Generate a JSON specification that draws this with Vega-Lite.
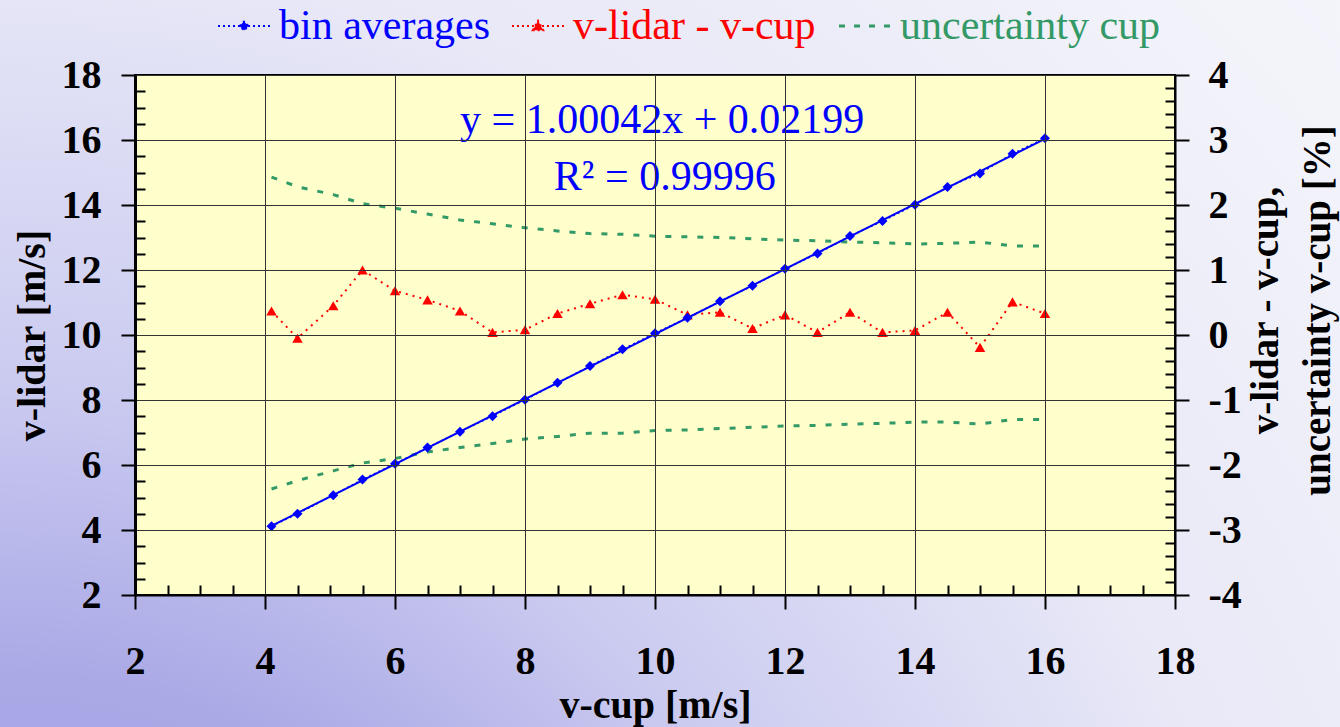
{
  "$schema": "https://vega.github.io/schema/vega-lite/v6.json",
  "width": 1040,
  "height": 520,
  "autosize": {"type": "none"},
  "padding": {"left": 135, "top": 75, "right": 165, "bottom": 132},
  "background": "#f4f4fb",
  "config": {
    "view": {"stroke": null},
    "font": "Liberation Serif, Times New Roman, serif",
    "axis": {
      "labelFont": "Liberation Serif, Times New Roman, serif",
      "labelFontWeight": "bold",
      "labelFontSize": 40,
      "labelColor": "#000000",
      "labelFlush": false,
      "labelOverlap": false,
      "labelBound": false,
      "titleFont": "Liberation Serif, Times New Roman, serif",
      "titleFontWeight": "bold",
      "titleFontSize": 40,
      "titleColor": "#000000",
      "tickColor": "#000000",
      "tickWidth": 2,
      "domainColor": "#000000",
      "domainWidth": 2,
      "gridColor": "#333333",
      "gridWidth": 1
    }
  },
  "datasets": {
    "bins": [
      {"cup": 4.1, "lidar": 4.115, "diff": 0.37, "unc_hi": 2.43, "unc_lo": -2.37},
      {"cup": 4.5, "lidar": 4.498, "diff": -0.05, "unc_hi": 2.28, "unc_lo": -2.24},
      {"cup": 5.05, "lidar": 5.073, "diff": 0.45, "unc_hi": 2.16, "unc_lo": -2.09},
      {"cup": 5.5, "lidar": 5.555, "diff": 1.0, "unc_hi": 2.02, "unc_lo": -1.97},
      {"cup": 6.0, "lidar": 6.041, "diff": 0.68, "unc_hi": 1.95, "unc_lo": -1.9},
      {"cup": 6.5, "lidar": 6.535, "diff": 0.54, "unc_hi": 1.86, "unc_lo": -1.8},
      {"cup": 7.0, "lidar": 7.026, "diff": 0.37, "unc_hi": 1.77, "unc_lo": -1.73},
      {"cup": 7.5, "lidar": 7.503, "diff": 0.04, "unc_hi": 1.71, "unc_lo": -1.67},
      {"cup": 8.0, "lidar": 8.006, "diff": 0.08, "unc_hi": 1.65, "unc_lo": -1.6},
      {"cup": 8.5, "lidar": 8.528, "diff": 0.33, "unc_hi": 1.6, "unc_lo": -1.56},
      {"cup": 9.0, "lidar": 9.043, "diff": 0.48, "unc_hi": 1.56, "unc_lo": -1.51},
      {"cup": 9.5, "lidar": 9.559, "diff": 0.62, "unc_hi": 1.55, "unc_lo": -1.51},
      {"cup": 10.0, "lidar": 10.055, "diff": 0.55, "unc_hi": 1.52, "unc_lo": -1.47},
      {"cup": 10.5, "lidar": 10.533, "diff": 0.31, "unc_hi": 1.51, "unc_lo": -1.46},
      {"cup": 11.0, "lidar": 11.039, "diff": 0.35, "unc_hi": 1.5, "unc_lo": -1.44},
      {"cup": 11.5, "lidar": 11.512, "diff": 0.1, "unc_hi": 1.48, "unc_lo": -1.42},
      {"cup": 12.0, "lidar": 12.037, "diff": 0.31, "unc_hi": 1.46, "unc_lo": -1.4},
      {"cup": 12.5, "lidar": 12.505, "diff": 0.04, "unc_hi": 1.45, "unc_lo": -1.39},
      {"cup": 13.0, "lidar": 13.046, "diff": 0.35, "unc_hi": 1.43, "unc_lo": -1.37},
      {"cup": 13.5, "lidar": 13.505, "diff": 0.04, "unc_hi": 1.42, "unc_lo": -1.36},
      {"cup": 14.0, "lidar": 14.01, "diff": 0.07, "unc_hi": 1.4, "unc_lo": -1.34},
      {"cup": 14.5, "lidar": 14.551, "diff": 0.35, "unc_hi": 1.41, "unc_lo": -1.34},
      {"cup": 15.0, "lidar": 14.972, "diff": -0.19, "unc_hi": 1.43, "unc_lo": -1.37},
      {"cup": 15.5, "lidar": 15.579, "diff": 0.51, "unc_hi": 1.37, "unc_lo": -1.3},
      {"cup": 16.0, "lidar": 16.053, "diff": 0.33, "unc_hi": 1.37, "unc_lo": -1.3}
    ]
  },
  "data": {"name": "bins"},
  "layer": [
    {
      "layer": [
        {
          "data": {"values": [{}]},
          "mark": {
            "type": "rect",
            "fill": {
              "gradient": "radial",
              "x1": 0.032, "y1": 0.961, "r1": 0,
              "x2": 0.032, "y2": 0.961, "r2": 1,
              "stops": [
                {"offset": 0, "color": "#9896e0"},
                {"offset": 0.3, "color": "#aaa9e6"},
                {"offset": 0.45, "color": "#cacaf0"},
                {"offset": 0.68, "color": "#e8e8f7"},
                {"offset": 0.9, "color": "#f2f2fa"},
                {"offset": 1, "color": "#f4f4fb"}
              ]
            }
          },
          "encoding": {
            "x": {"datum": -1, "type": "quantitative", "scale": {"domain": [2, 18], "nice": false, "zero": false}},
            "x2": {"datum": 28},
            "y": {"datum": -6.5, "type": "quantitative", "scale": {"domain": [-4, 4], "nice": false, "zero": false}},
            "y2": {"datum": 5.5}
          }
        },
        {
          "data": {"values": [{}]},
          "mark": {"type": "rect", "fill": "#ffffcc", "stroke": "#000000", "strokeWidth": 2},
          "encoding": {
            "x": {"datum": 2, "type": "quantitative"},
            "x2": {"datum": 18},
            "y": {"datum": -4, "type": "quantitative"},
            "y2": {"datum": 4}
          }
        },
        {
          "mark": {"type": "line", "color": "#339966", "strokeDash": [6, 10], "strokeWidth": 3},
          "encoding": {
            "x": {"field": "cup", "type": "quantitative"},
            "y": {"field": "unc_hi", "type": "quantitative"}
          }
        },
        {
          "mark": {"type": "line", "color": "#339966", "strokeDash": [6, 10], "strokeWidth": 3},
          "encoding": {
            "x": {"field": "cup", "type": "quantitative"},
            "y": {"field": "unc_lo", "type": "quantitative"}
          }
        },
        {
          "mark": {"type": "line", "color": "#ff0000", "strokeDash": [2, 5], "strokeWidth": 2},
          "encoding": {
            "x": {"field": "cup", "type": "quantitative"},
            "y": {"field": "diff", "type": "quantitative"}
          }
        },
        {
          "mark": {"type": "point", "shape": "triangle-up", "filled": true, "size": 110, "opacity": 1, "color": "#ff0000"},
          "encoding": {
            "x": {"field": "cup", "type": "quantitative"},
            "y": {
              "field": "diff",
              "type": "quantitative",
              "axis": {
                "orient": "right",
                "zindex": 2,
                "tickCount": 1000,
                "values": [-4, -3.8, -3.6, -3.4, -3.2, -3, -2.8, -2.6, -2.4, -2.2, -2, -1.8, -1.6, -1.4, -1.2, -1, -0.8, -0.6, -0.4, -0.2, 0, 0.2, 0.4, 0.6, 0.8, 1, 1.2, 1.4, 1.6, 1.8, 2, 2.2, 2.4, 2.6, 2.8, 3, 3.2, 3.4, 3.6, 3.8, 4],
                "labelExpr": "abs(datum.value - round(datum.value)) < 0.01 ? '' + round(datum.value) : ''",
                "labelOverlap": false,
                "tickSize": {"condition": {"test": "abs(datum.value - round(datum.value)) < 0.01", "value": 14}, "value": -10},
                "grid": false,
                "labelPadding": 19,
                "labelAlign": "left",
                "title": ["v-lidar - v-cup,", "uncertainty v-cup [%]"],
                "titleFontSize": 39,
                "titleAngle": 270,
                "titleAlign": "center",
                "titleBaseline": "top",
                "titleLineHeight": 52,
                "titleX": 71,
                "titleY": 235
              }
            }
          }
        }
      ]
    },
    {
      "layer": [
        {
          "transform": [{"regression": "lidar", "on": "cup", "extent": [4.1, 16]}],
          "mark": {"type": "line", "color": "#0000ff", "strokeWidth": 2},
          "encoding": {
            "x": {"field": "cup", "type": "quantitative"},
            "y": {"field": "lidar", "type": "quantitative"}
          }
        },
        {
          "mark": {"type": "line", "color": "#0000ff", "strokeDash": [2, 3], "strokeWidth": 1.5},
          "encoding": {
            "x": {"field": "cup", "type": "quantitative"},
            "y": {"field": "lidar", "type": "quantitative"}
          }
        },
        {
          "mark": {"type": "point", "shape": "diamond", "filled": true, "size": 100, "opacity": 1},
          "encoding": {
            "x": {
              "field": "cup",
              "type": "quantitative",
              "axis": {
                "zindex": 2,
                "tickCount": 1000,
                "values": [2, 2.5, 3, 3.5, 4, 4.5, 5, 5.5, 6, 6.5, 7, 7.5, 8, 8.5, 9, 9.5, 10, 10.5, 11, 11.5, 12, 12.5, 13, 13.5, 14, 14.5, 15, 15.5, 16, 16.5, 17, 17.5, 18],
                "labelExpr": "datum.value % 2 === 0 ? '' + datum.value : ''",
                "labelOverlap": false,
                "tickSize": {"condition": {"test": "datum.value % 2 === 0", "value": 14}, "value": -10},
                "grid": true,
                "gridOpacity": {"condition": {"test": "datum.value % 2 === 0", "value": 1}, "value": 0},
                "labelPadding": 32,
                "title": "v-cup [m/s]",
                "titlePadding": 4
              }
            },
            "y": {
              "field": "lidar",
              "type": "quantitative",
              "scale": {"domain": [2, 18], "nice": false, "zero": false},
              "axis": {
                "orient": "left",
                "zindex": 2,
                "tickCount": 1000,
                "values": [2, 2.5, 3, 3.5, 4, 4.5, 5, 5.5, 6, 6.5, 7, 7.5, 8, 8.5, 9, 9.5, 10, 10.5, 11, 11.5, 12, 12.5, 13, 13.5, 14, 14.5, 15, 15.5, 16, 16.5, 17, 17.5, 18],
                "labelExpr": "datum.value % 2 === 0 ? '' + datum.value : ''",
                "labelOverlap": false,
                "tickSize": {"condition": {"test": "datum.value % 2 === 0", "value": 14}, "value": -10},
                "grid": true,
                "gridOpacity": {"condition": {"test": "datum.value % 2 === 0", "value": 1}, "value": 0},
                "labelPadding": 20,
                "domainWidth": 3,
                "title": "v-lidar [m/s]",
                "titlePadding": 9
              }
            },
            "color": {
              "datum": "bin averages",
              "type": "nominal",
              "scale": {
                "domain": ["bin averages", "v-lidar - v-cup", "uncertainty cup"],
                "range": ["#0000ff", "#ff0000", "#339966"]
              },
              "legend": {
                "orient": "none",
                "legendX": 88,
                "legendY": -70,
                "direction": "horizontal",
                "title": null,
                "labelFont": "Liberation Serif, Times New Roman, serif",
                "labelFontSize": 42,
                "labelFontWeight": "normal",
                "labelLimit": 600,
                "labelOffset": 14,
                "columnPadding": 17,
                "symbolSize": 2704,
                "symbolType": {"expr": "datum.value === 'bin averages' ? 'M-1,0H1M-0.17,0L0,-0.17L0.17,0L0,0.17Z' : datum.value === 'v-lidar - v-cup' ? 'M-1,0H1M-0.2,0.16L0,-0.2L0.2,0.16Z' : 'M-1,0H1'"},
                "symbolDash": {"expr": "datum.value === 'uncertainty cup' ? [6, 9] : [2, 3]"},
                "symbolStrokeWidth": {"expr": "datum.value === 'uncertainty cup' ? 3 : 2"},
                "symbolStrokeColor": {"expr": "datum.value === 'bin averages' ? '#0000ff' : datum.value === 'v-lidar - v-cup' ? '#ff0000' : '#339966'"},
                "symbolFillColor": {"expr": "datum.value === 'bin averages' ? '#0000ff' : datum.value === 'v-lidar - v-cup' ? '#ff0000' : 'transparent'"},
                "symbolOpacity": 1,
                "labelColor": {"expr": "datum.value === 'bin averages' ? '#0000ff' : datum.value === 'v-lidar - v-cup' ? '#ff0000' : '#339966'"}
              }
            }
          }
        },
        {
          "data": {"values": [{}]},
          "mark": {"type": "text", "text": "y = 1.00042x + 0.02199", "font": "Liberation Serif, Times New Roman, serif", "fontSize": 42, "color": "#0000ff", "align": "center", "baseline": "alphabetic"},
          "encoding": {
            "x": {"datum": 10.11, "type": "quantitative"},
            "y": {"datum": 16.215, "type": "quantitative"}
          }
        },
        {
          "data": {"values": [{}]},
          "mark": {"type": "text", "text": "R² = 0.99996", "font": "Liberation Serif, Times New Roman, serif", "fontSize": 42, "color": "#0000ff", "align": "center", "baseline": "alphabetic"},
          "encoding": {
            "x": {"datum": 10.15, "type": "quantitative"},
            "y": {"datum": 14.46, "type": "quantitative"}
          }
        }
      ]
    }
  ],
  "resolve": {"scale": {"y": "independent"}}
}
